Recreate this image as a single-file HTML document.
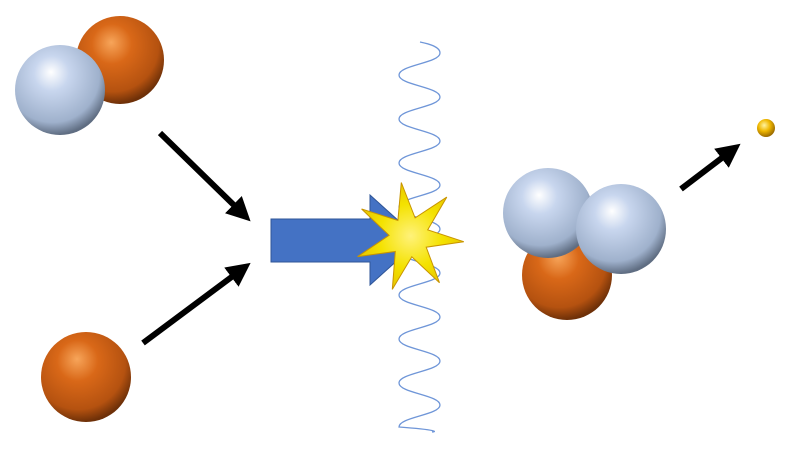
<!DOCTYPE html>
<html><head><style>body{margin:0;background:#fff}</style></head><body>
<svg width="800" height="450" viewBox="0 0 800 450" xmlns="http://www.w3.org/2000/svg">
<defs>
<radialGradient id="or" cx="0.42" cy="0.35" r="0.65" fx="0.4" fy="0.3">
<stop offset="0" stop-color="#f7a55a"/><stop offset="0.35" stop-color="#d96818"/><stop offset="0.8" stop-color="#b55210"/><stop offset="1" stop-color="#6e3008"/></radialGradient>
<radialGradient id="bl" cx="0.42" cy="0.35" r="0.65" fx="0.4" fy="0.3">
<stop offset="0" stop-color="#ffffff"/><stop offset="0.3" stop-color="#c8d6ee"/><stop offset="0.8" stop-color="#9fb1cc"/><stop offset="1" stop-color="#5f6d82"/></radialGradient>
<radialGradient id="gd" cx="0.4" cy="0.35" r="0.65"><stop offset="0" stop-color="#fff3a0"/><stop offset="0.5" stop-color="#f0b800"/><stop offset="1" stop-color="#9a6a00"/></radialGradient>
<radialGradient id="st" cx="0.5" cy="0.5" r="0.5"><stop offset="0" stop-color="#fff27a"/><stop offset="0.6" stop-color="#f4e200"/><stop offset="1" stop-color="#e8c800"/></radialGradient>
<marker id="ah" markerWidth="4" markerHeight="4" refX="2" refY="2" orient="auto" markerUnits="strokeWidth"><path d="M0,0 L4,2 L0,4 Z" fill="#000"/></marker>
</defs>
<path id="wave" fill="none" stroke="#6f96d8" stroke-width="1.3"/>
<circle cx="120" cy="60" r="44" fill="url(#or)"/>
<circle cx="60" cy="90" r="45" fill="url(#bl)"/>
<circle cx="86" cy="377" r="45" fill="url(#or)"/>
<line x1="160" y1="133" x2="242" y2="213" stroke="#000" stroke-width="6" marker-end="url(#ah)"/>
<line x1="143" y1="343" x2="241" y2="270" stroke="#000" stroke-width="6" marker-end="url(#ah)"/>
<line x1="681" y1="189" x2="731" y2="151" stroke="#000" stroke-width="6" marker-end="url(#ah)"/>
<path d="M271,219 H370 V195 L420,240 L370,285 V262 H271 Z" fill="#4472c4" stroke="#2f5597" stroke-width="1"/>
<polygon id="star" fill="url(#st)" stroke="#c89400" stroke-width="1"/>
<circle cx="567" cy="275" r="45" fill="url(#or)"/>
<circle cx="548" cy="213" r="45" fill="url(#bl)"/>
<circle cx="621" cy="229" r="45" fill="url(#bl)"/>
<circle cx="766" cy="128" r="9" fill="url(#gd)"/>
</svg>
<script>
var d="M420,42 C430,44 440,47 440,53";
var y=53,right=true;
while(y+22<=432){var x1=right?440:399,x2=right?399:440;d+=" C"+x1+","+(y+10)+" "+x2+","+(y+12)+" "+x2+","+(y+22);y+=22;right=!right;}
d+=" C440,"+(y+3)+" 436,"+(y+5)+" 432,"+(y+5);
document.getElementById('wave').setAttribute('d',d);
var p=[],cx=409,cy=237;
for(var i=0;i<14;i++){var a=(-98+i*180/7)*Math.PI/180,r=i%2?20:55;p.push((cx+r*Math.cos(a)).toFixed(1)+","+(cy+r*Math.sin(a)).toFixed(1));}
document.getElementById('star').setAttribute('points',p.join(" "));
</script>
</body></html>
